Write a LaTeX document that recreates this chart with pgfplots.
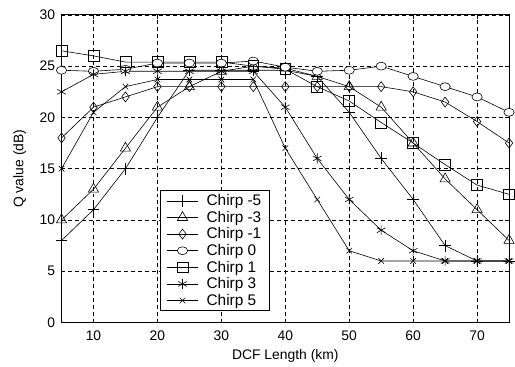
\documentclass[border=0pt]{standalone}
\usepackage{pgfplots}
\pgfplotsset{compat=1.18}
\usepackage{fontspec}
\setmainfont{Liberation Sans}
\begin{document}
\begin{tikzpicture}
\begin{axis}[
  name=ax,
  scale only axis, width=451pt, height=310pt,
  xmin=5, xmax=75, ymin=0, ymax=30,
  xtick={10,20,...,70}, ytick={0,5,...,30},
  tick align=inside, major tick length=4pt,
  tick style={black, line width=0.6pt},
  grid=major, major grid style={dashed, black, line width=0.6pt, dash pattern=on 4pt off 3pt},
  axis line style={black, line width=0.8pt},
  /pgf/number format/assume math mode=true,
  tick label style={font=\fontsize{14}{16}\selectfont},
  xticklabel style={yshift=-5pt},
  yticklabel style={xshift=-3pt},
  every axis x label/.style={at={(axis description cs:0.5,0)}, anchor=center, yshift=-34pt, font=\fontsize{14}{16}\selectfont},
  every axis y label/.style={at={(axis description cs:-0.0931,0.5)}, rotate=90, anchor=center, font=\fontsize{14}{16}\selectfont},
  xlabel={DCF Length (km)}, ylabel={Q value (dB)},
  every axis plot/.append style={black, line width=0.6pt, mark options={solid, fill=white, line width=0.6pt}},
  legend style={at={(0.22,0.43)}, anchor=north west, draw=black, line width=0.8pt,
    font=\fontsize{15.5}{18}\selectfont, row sep=0pt, inner xsep=6pt, inner ysep=2pt,
    /tikz/every odd column/.append style={column sep=6pt}},
  legend cell align=left,
  legend image code/.code={\draw[mark repeat=2,mark phase=2,#1] plot coordinates {(0pt,0pt)(16pt,0pt)(32pt,0pt)};},
]
% Chirp -5
\addplot[mark=+, mark size=6pt] coordinates {(5,8)(10,11)(15,15)(20,20)(25,24.6)(30,24.6)(35,24.6)(40,24.6)(45,24)(50,20.5)(55,16)(60,12)(65,7.5)(70,6)(75,6)};
\addlegendentry{Chirp -5\hspace{8pt}}
% Chirp -3
\addplot[mark=triangle, mark size=6pt] coordinates {(5,10)(10,13)(15,17)(20,21)(25,23)(30,24.5)(35,25)(40,24.8)(45,24)(50,23)(55,21)(60,17.5)(65,14)(70,11)(75,8)};
\addlegendentry{Chirp -3}
% Chirp -1
\addplot[mark=diamond, mark size=5pt] coordinates {(5,18)(10,21)(15,22)(20,23)(25,23)(30,23)(35,23)(40,23)(45,23)(50,23)(55,23)(60,22.5)(65,21.5)(70,19.6)(75,17.5)};
\addlegendentry{Chirp -1}
% Chirp 0
\addplot[mark=*, mark options={fill=white, xscale=1.3}, mark size=4pt] coordinates {(5,24.6)(10,24.5)(15,24.7)(20,25.3)(25,25.3)(30,25.3)(35,25.5)(40,24.9)(45,24.5)(50,24.6)(55,25)(60,24)(65,23)(70,22)(75,20.5)};
\addlegendentry{Chirp 0}
% Chirp 1
\addplot[mark=square, mark size=5.5pt] coordinates {(5,26.5)(10,26)(15,25.4)(20,25.4)(25,25.4)(30,25.4)(35,25)(40,24.7)(45,23)(50,21.6)(55,19.5)(60,17.5)(65,15.4)(70,13.4)(75,12.5)};
\addlegendentry{Chirp 1}
% Chirp 3
\addplot[mark=asterisk, mark size=5pt] coordinates {(5,22.5)(10,24.2)(15,24.5)(20,24.5)(25,24.5)(30,24.5)(35,24.5)(40,21)(45,16)(50,12)(55,9)(60,7)(65,6)(70,6)(75,6)};
\addlegendentry{Chirp 3}
% Chirp 5
\addplot[mark=x, mark size=4pt] coordinates {(5,15)(10,20.5)(15,23)(20,23.7)(25,23.7)(30,23.7)(35,23.7)(40,17)(45,12)(50,7)(55,6)(60,6)(65,6)(70,6)(75,6)};
\addlegendentry{Chirp 5}
\end{axis}
\path[use as bounding box] ([shift={(-62pt,-42pt)}]ax.south west) rectangle ([shift={(2pt,15pt)}]ax.north east);
\end{tikzpicture}
\end{document}
